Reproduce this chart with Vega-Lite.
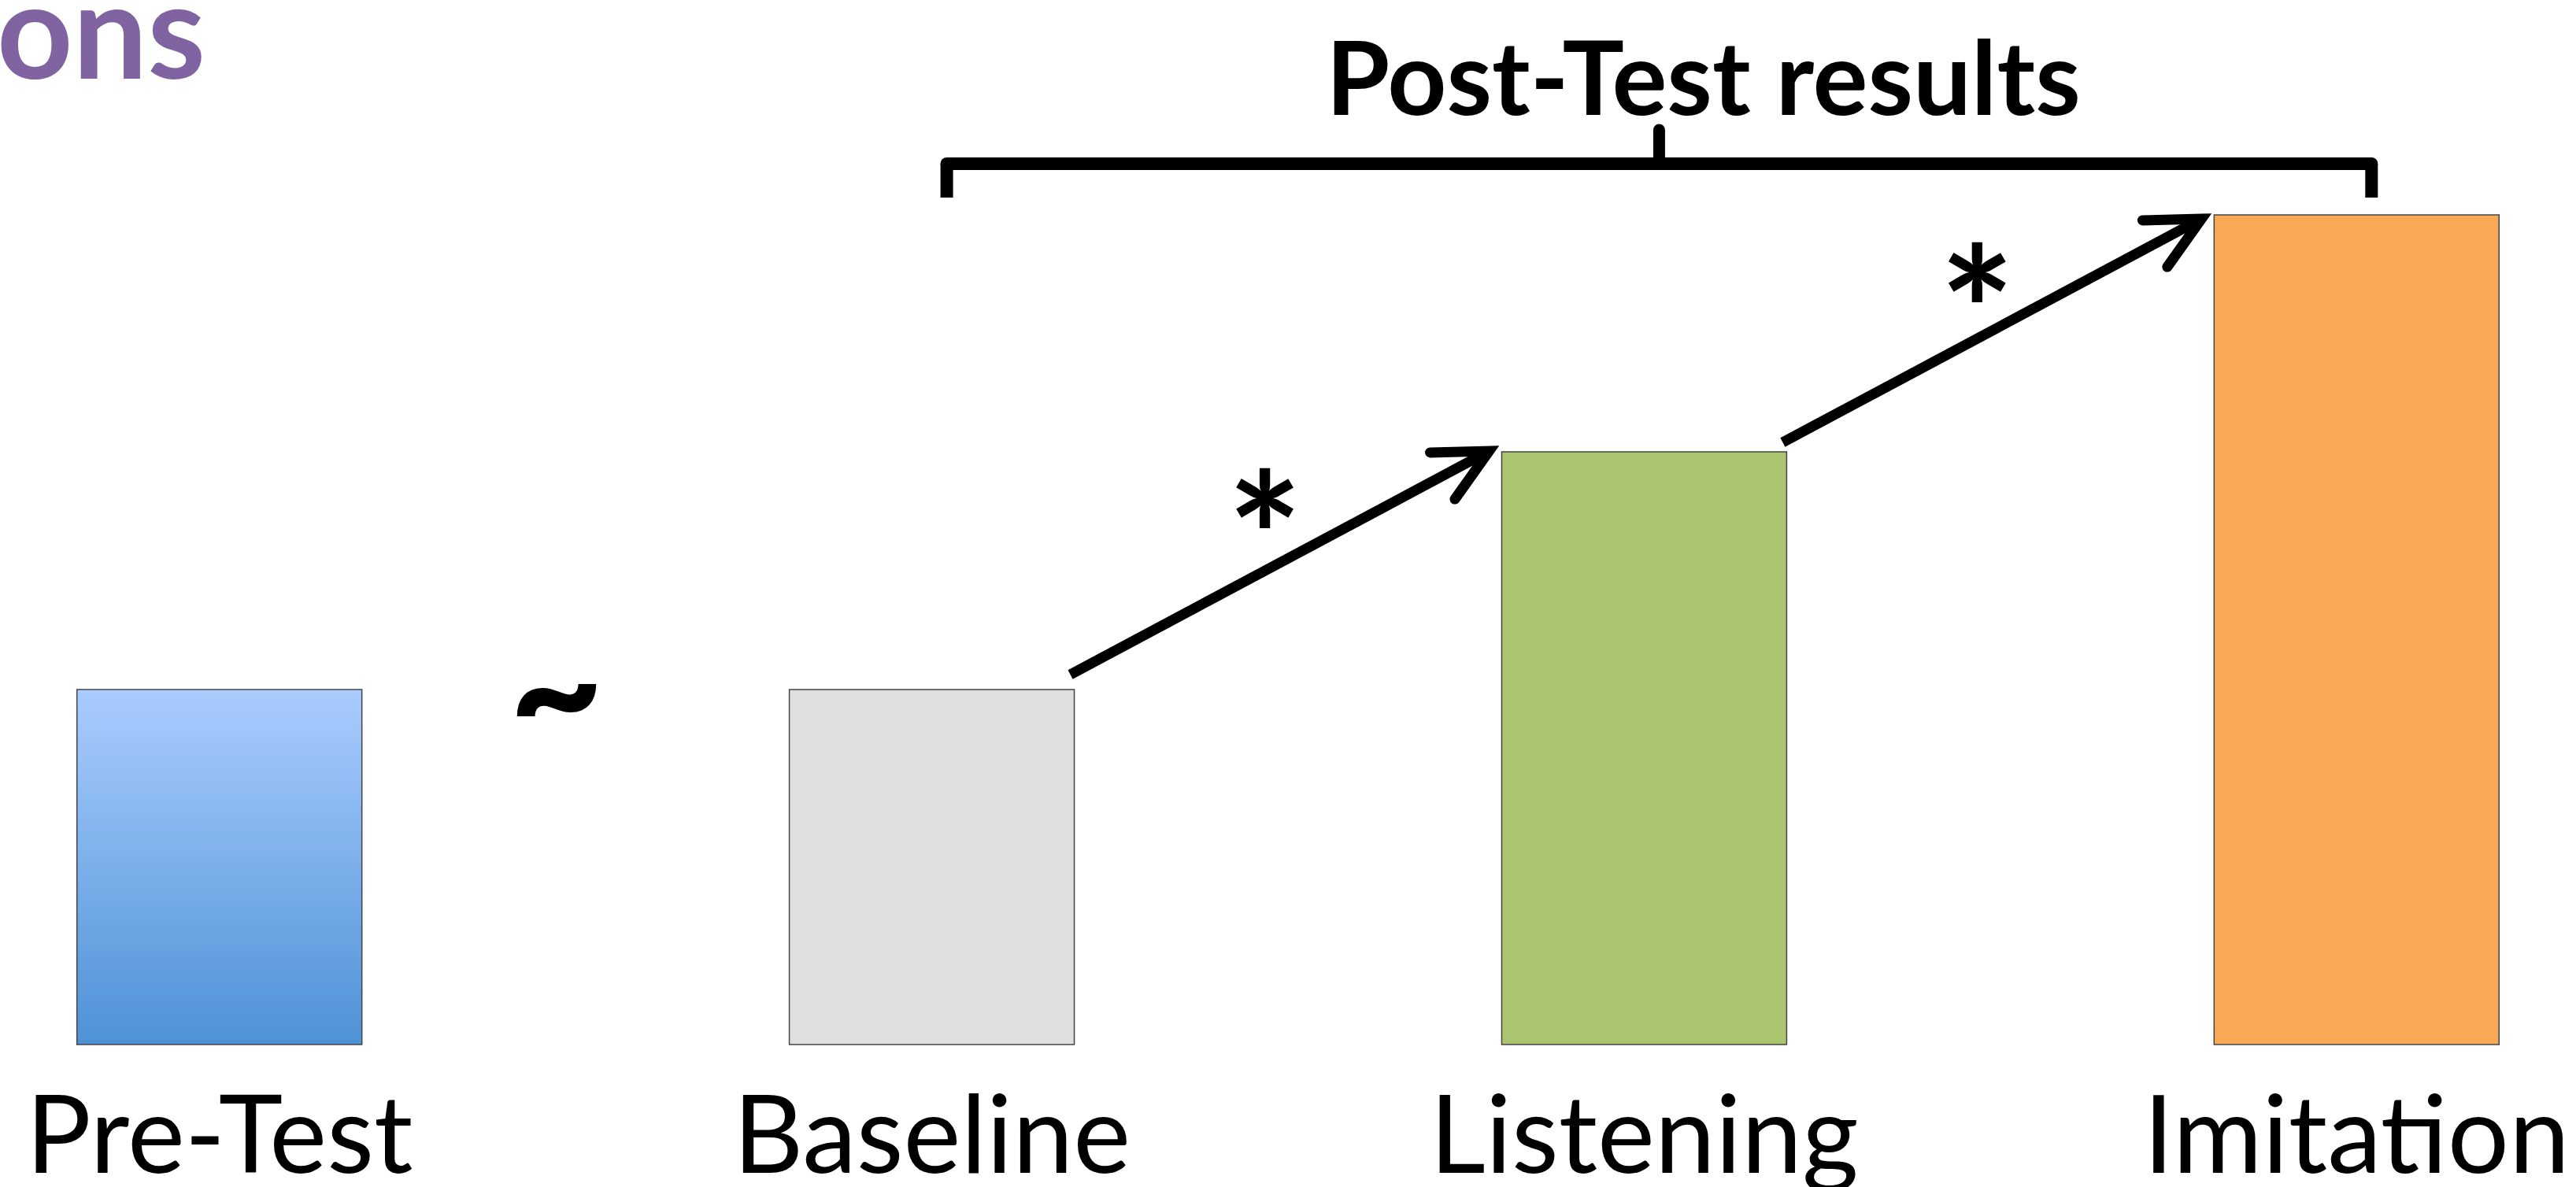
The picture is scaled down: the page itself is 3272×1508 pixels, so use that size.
{
  "$schema": "https://vega.github.io/schema/vega-lite/v6.json",
  "width": 3272,
  "height": 1508,
  "padding": 0,
  "autosize": {"type": "none"},
  "background": "white",
  "config": {"view": {"stroke": null}},
  "title": {
    "text": "ons",
    "anchor": "start",
    "orient": "top",
    "frame": "group",
    "offset": -135,
    "dx": -4,
    "font": "Lato",
    "fontWeight": "bold",
    "fontSize": 168,
    "color": "#8064A2"
  },
  "datasets": {
    "bars": [
      {"group": "Pre-Test", "score": 45.1},
      {"group": "Baseline", "score": 45.1},
      {"group": "Listening", "score": 75.3},
      {"group": "Imitation", "score": 105.4}
    ],
    "arrows": [
      {"from": "Baseline", "to": "Listening", "y_start": 47.0, "y_end": 75.4},
      {"from": "Listening", "to": "Imitation", "y_start": 76.5, "y_end": 104.9}
    ],
    "signs": [
      {"from": "Pre-Test", "sign": "~", "y": 43.9},
      {"from": "Baseline", "sign": "*", "y": 63.0},
      {"from": "Listening", "sign": "*", "y": 91.7}
    ],
    "braceSpan": [
      {"x_from": "Baseline", "x_to": "Imitation", "y": 111.9}
    ],
    "braceLegs": [
      {"at": "Baseline", "y_a": 111.9, "y_b": 107.6},
      {"at": "Imitation", "y_a": 111.9, "y_b": 107.6}
    ],
    "braceTip": [
      {"at": "Listening", "y_a": 111.9, "y_b": 116.2, "label": "Post-Test results", "label_y": 118.1}
    ]
  },
  "layer": [
    {
      "data": {"name": "bars"},
      "transform": [{"filter": "datum.group === 'Pre-Test'"}],
      "mark": {
        "type": "bar",
        "fill": {"gradient": "linear", "x1": 0, "y1": 0, "x2": 0, "y2": 1,
          "stops": [{"offset": 0, "color": "#AACCFF"}, {"offset": 1, "color": "#4E92D6"}]},
        "stroke": "#444444",
        "strokeWidth": 1.5
      },
      "encoding": {
        "x": {"field": "group", "type": "nominal",
          "scale": {"domain": ["Pre-Test", "Baseline", "Listening", "Imitation"], "paddingInner": 0.6, "paddingOuter": 0.108}, "axis": null},
        "y": {"field": "score", "type": "quantitative",
          "scale": {"domain": [-18.1, 132.7], "nice": false, "zero": false}, "axis": null}
      }
    },
    {
      "data": {"name": "bars"},
      "transform": [{"filter": "datum.group !== 'Pre-Test'"}],
      "mark": {"type": "bar", "stroke": "#444444", "strokeWidth": 1.5},
      "encoding": {
        "x": {"field": "group", "type": "nominal",
          "scale": {"domain": ["Pre-Test", "Baseline", "Listening", "Imitation"], "paddingInner": 0.6, "paddingOuter": 0.108}, "axis": null},
        "y": {"field": "score", "type": "quantitative",
          "scale": {"domain": [-18.1, 132.7], "nice": false, "zero": false}, "axis": null},
        "fill": {"field": "group", "type": "nominal",
          "scale": {"domain": ["Baseline", "Listening", "Imitation"], "range": ["#DFDFDF", "#ABC46E", "#F9A856"]}, "legend": null}
      }
    },
    {
      "data": {"name": "bars"},
      "mark": {"type": "text", "font": "Lato", "fontSize": 138, "align": "center", "baseline": "alphabetic", "color": "#000000"},
      "encoding": {
        "x": {"field": "group", "type": "nominal",
          "scale": {"domain": ["Pre-Test", "Baseline", "Listening", "Imitation"], "paddingInner": 0.6, "paddingOuter": 0.108}, "axis": null},
        "y": {"datum": -16.3, "type": "quantitative",
          "scale": {"domain": [-18.1, 132.7], "nice": false, "zero": false}, "axis": null},
        "text": {"field": "group"}
      }
    },
    {
      "data": {"name": "arrows"},
      "mark": {"type": "rule", "stroke": "#000000", "strokeWidth": 13, "strokeCap": "butt", "xOffset": -5, "x2Offset": -16},
      "encoding": {
        "x": {"field": "from", "type": "nominal", "bandPosition": 1,
          "scale": {"domain": ["Pre-Test", "Baseline", "Listening", "Imitation"], "paddingInner": 0.6, "paddingOuter": 0.108}, "axis": null},
        "x2": {"field": "to", "bandPosition": 0},
        "y": {"field": "y_start", "type": "quantitative",
          "scale": {"domain": [-18.1, 132.7], "nice": false, "zero": false}, "axis": null},
        "y2": {"field": "y_end"}
      }
    },
    {
      "data": {"name": "arrows"},
      "mark": {"type": "point", "shape": "M-1,-0.5L0,0L-1,0.5", "filled": false, "stroke": "#000000",
        "strokeWidth": 13, "strokeCap": "round", "strokeJoin": "miter", "size": 18000, "angle": 332, "xOffset": -16, "opacity": 1},
      "encoding": {
        "x": {"field": "to", "type": "nominal", "bandPosition": 0,
          "scale": {"domain": ["Pre-Test", "Baseline", "Listening", "Imitation"], "paddingInner": 0.6, "paddingOuter": 0.108}, "axis": null},
        "y": {"field": "y_end", "type": "quantitative",
          "scale": {"domain": [-18.1, 132.7], "nice": false, "zero": false}, "axis": null}
      }
    },
    {
      "data": {"name": "signs"},
      "transform": [{"filter": "datum.sign === '*'"}],
      "mark": {"type": "text", "font": "Lato", "fontWeight": "bold", "fontSize": 225, "align": "center", "baseline": "middle", "dx": 242, "color": "#000000"},
      "encoding": {
        "x": {"field": "from", "type": "nominal", "bandPosition": 1,
          "scale": {"domain": ["Pre-Test", "Baseline", "Listening", "Imitation"], "paddingInner": 0.6, "paddingOuter": 0.108}, "axis": null},
        "y": {"field": "y", "type": "quantitative",
          "scale": {"domain": [-18.1, 132.7], "nice": false, "zero": false}, "axis": null},
        "text": {"field": "sign"}
      }
    },
    {
      "data": {"name": "signs"},
      "transform": [{"filter": "datum.sign === '~'"}],
      "mark": {"type": "text", "font": "Lato", "fontWeight": 900, "fontSize": 205, "align": "center", "baseline": "middle", "dx": 247, "color": "#000000"},
      "encoding": {
        "x": {"field": "from", "type": "nominal", "bandPosition": 1,
          "scale": {"domain": ["Pre-Test", "Baseline", "Listening", "Imitation"], "paddingInner": 0.6, "paddingOuter": 0.108}, "axis": null},
        "y": {"field": "y", "type": "quantitative",
          "scale": {"domain": [-18.1, 132.7], "nice": false, "zero": false}, "axis": null},
        "text": {"field": "sign"}
      }
    },
    {
      "data": {"name": "braceSpan"},
      "mark": {"type": "rule", "stroke": "#000000", "strokeWidth": 16, "strokeCap": "round", "xOffset": 19, "x2Offset": 19},
      "encoding": {
        "x": {"field": "x_from", "type": "nominal",
          "scale": {"domain": ["Pre-Test", "Baseline", "Listening", "Imitation"], "paddingInner": 0.6, "paddingOuter": 0.108}, "axis": null},
        "x2": {"field": "x_to"},
        "y": {"field": "y", "type": "quantitative",
          "scale": {"domain": [-18.1, 132.7], "nice": false, "zero": false}, "axis": null}
      }
    },
    {
      "data": {"name": "braceLegs"},
      "mark": {"type": "rule", "stroke": "#000000", "strokeWidth": 16, "strokeCap": "butt", "xOffset": 19},
      "encoding": {
        "x": {"field": "at", "type": "nominal",
          "scale": {"domain": ["Pre-Test", "Baseline", "Listening", "Imitation"], "paddingInner": 0.6, "paddingOuter": 0.108}, "axis": null},
        "y": {"field": "y_a", "type": "quantitative",
          "scale": {"domain": [-18.1, 132.7], "nice": false, "zero": false}, "axis": null},
        "y2": {"field": "y_b"}
      }
    },
    {
      "data": {"name": "braceTip"},
      "mark": {"type": "rule", "stroke": "#000000", "strokeWidth": 15, "strokeCap": "round", "xOffset": 19},
      "encoding": {
        "x": {"field": "at", "type": "nominal",
          "scale": {"domain": ["Pre-Test", "Baseline", "Listening", "Imitation"], "paddingInner": 0.6, "paddingOuter": 0.108}, "axis": null},
        "y": {"field": "y_a", "type": "quantitative",
          "scale": {"domain": [-18.1, 132.7], "nice": false, "zero": false}, "axis": null},
        "y2": {"field": "y_b"}
      }
    },
    {
      "data": {"name": "braceTip"},
      "mark": {"type": "text", "font": "Lato", "fontWeight": "bold", "fontSize": 131, "align": "center", "baseline": "alphabetic", "dx": 75, "color": "#000000"},
      "encoding": {
        "x": {"field": "at", "type": "nominal",
          "scale": {"domain": ["Pre-Test", "Baseline", "Listening", "Imitation"], "paddingInner": 0.6, "paddingOuter": 0.108}, "axis": null},
        "y": {"field": "label_y", "type": "quantitative",
          "scale": {"domain": [-18.1, 132.7], "nice": false, "zero": false}, "axis": null},
        "text": {"field": "label"}
      }
    }
  ]
}
